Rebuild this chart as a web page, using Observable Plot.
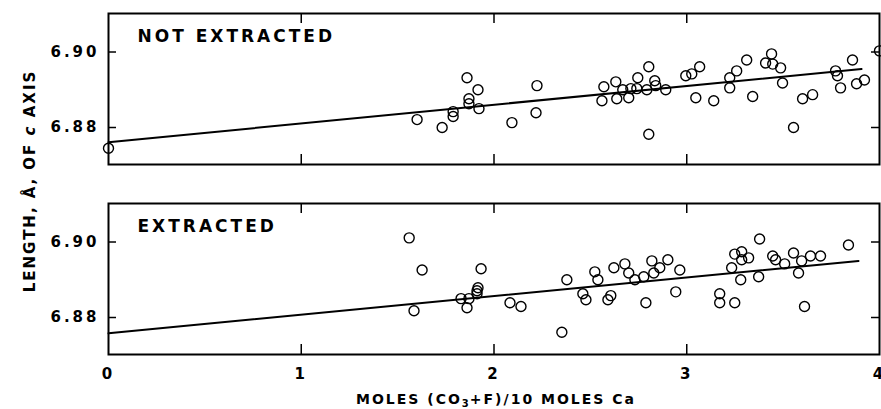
<!DOCTYPE html>
<html>
<head>
<meta charset="utf-8">
<script src="https://cdn.jsdelivr.net/npm/d3@7"></script>
<script src="https://cdn.jsdelivr.net/npm/@observablehq/plot@0.6"></script>
<style>
  html, body { margin: 0; padding: 0; background: white; }
  #wrap { position: relative; width: 881px; height: 409px; overflow: hidden; font-family: "DejaVu Sans", sans-serif; font-weight: bold; color: black; }
  #wrap svg text { letter-spacing: 3px; }
  .ylab { position: absolute; left: 30px; top: 181px; transform: translate(-50%, -50%) rotate(-90deg); white-space: nowrap; font-size: 15px; letter-spacing: 2px; }
  .xlab { position: absolute; left: 496px; top: 399px; transform: translate(-50%, -50%); white-space: nowrap; font-size: 14px; letter-spacing: 2px; line-height: 16px; }
  .xlab sub { font-size: 10px; vertical-align: -3px; letter-spacing: 1px; line-height: 0; }
</style>
</head>
<body>
<div id="wrap">
  <div class="ylab">LENGTH, Å, OF <i>c</i> AXIS</div>
  <div class="xlab">MOLES (CO<sub>3</sub>+F)/10 MOLES Ca</div>
</div>
<script>
// Panels
const panels = ["NOT EXTRACTED", "EXTRACTED"];

// Tick values
const xTicks = [0, 1, 2, 3, 4];
const xInnerTicks = [1, 2, 3];
const yTicks = [6.88, 6.90];

// NOT EXTRACTED samples
const topX = [0, 1.601, 1.731, 1.788, 1.788, 1.860, 1.870, 1.870, 1.917, 1.922, 2.093, 2.223, 2.218,
  2.560, 2.570, 2.632, 2.637, 2.668, 2.699, 2.710, 2.746, 2.741, 2.793, 2.803, 2.834, 2.839, 2.891, 2.803,
  2.995, 3.026, 3.067, 3.047, 3.140, 3.223, 3.223, 3.259, 3.311, 3.342, 3.409, 3.440, 3.446, 3.487, 3.497,
  3.554, 3.601, 3.653, 3.772, 3.782, 3.798, 3.860, 3.881, 3.922, 4.000];
const topY = [6.8745, 6.8821, 6.8800, 6.8842, 6.8829, 6.8932, 6.8876, 6.8863, 6.8900, 6.8850, 6.8813, 6.8911, 6.8839,
  6.8871, 6.8908, 6.8921, 6.8876, 6.8900, 6.8879, 6.8903, 6.8932, 6.8903, 6.8900, 6.8961, 6.8924, 6.8911, 6.8900, 6.8782,
  6.8937, 6.8942, 6.8961, 6.8879, 6.8871, 6.8932, 6.8905, 6.8950, 6.8979, 6.8882, 6.8971, 6.8995, 6.8968, 6.8958, 6.8918,
  6.8800, 6.8876, 6.8887, 6.8950, 6.8937, 6.8905, 6.8979, 6.8916, 6.8926, 6.9003];

// EXTRACTED samples
const botX = [1.560, 1.627, 1.585, 1.829, 1.860, 1.870, 1.912, 1.917, 1.912, 1.933, 2.083, 2.140, 2.352,
  2.378, 2.461, 2.477, 2.523, 2.539, 2.591, 2.606, 2.622, 2.679, 2.699, 2.731, 2.788, 2.777, 2.819, 2.829,
  2.860, 2.902, 2.943, 2.964, 3.171, 3.171, 3.233, 3.249, 3.249, 3.285, 3.285, 3.321, 3.280, 3.378, 3.373,
  3.446, 3.461, 3.508, 3.554, 3.596, 3.580, 3.642, 3.694, 3.611, 3.839];
const botY = [6.9011, 6.8926, 6.8818, 6.8850, 6.8826, 6.8850, 6.8863, 6.8879, 6.8871, 6.8929, 6.8839, 6.8829, 6.8761,
  6.8900, 6.8863, 6.8847, 6.8921, 6.8900, 6.8847, 6.8858, 6.8932, 6.8942, 6.8918, 6.8900, 6.8839, 6.8908, 6.8950, 6.8918,
  6.8932, 6.8953, 6.8868, 6.8926, 6.8863, 6.8839, 6.8932, 6.8839, 6.8968, 6.8974, 6.8953, 6.8958, 6.8900, 6.9008, 6.8908,
  6.8963, 6.8953, 6.8942, 6.8971, 6.8950, 6.8918, 6.8963, 6.8963, 6.8829, 6.8992];

// Fitted lines (endpoints)
const topFitX = [0, 3.907];
const topFitY = [6.8761, 6.8955];
const botFitX = [0, 3.891];
const botFitY = [6.8758, 6.8950];

// Build tables
const points = [
  ...topX.map((x, i) => ({panel: panels[0], x, y: topY[i]})),
  ...botX.map((x, i) => ({panel: panels[1], x, y: botY[i]}))
];
const fits = [
  ...topFitX.map((x, i) => ({panel: panels[0], x, y: topFitY[i]})),
  ...botFitX.map((x, i) => ({panel: panels[1], x, y: botFitY[i]}))
];

const W = 881, H = 409, mL = 108, mR = 2, mT = 12, mB = 54;
const innerW = W - mL - mR;
const gapFrac = 0.204;
const bandH = (H - mT - mB) / (2 - gapFrac) * (1 - gapFrac);

const chart = Plot.plot({
  width: W, height: H,
  marginLeft: mL, marginRight: mR, marginTop: mT, marginBottom: mB,
  style: {fontFamily: "DejaVu Sans, sans-serif", fontSize: "15px", fontWeight: "bold", color: "black", background: "white", overflow: "visible"},
  x: {domain: [0, 4], ticks: xTicks, tickSize: 0, tickPadding: 14, tickFormat: d => String(d), label: null},
  y: {domain: [6.8702, 6.9102], ticks: yTicks, tickSize: 0, tickPadding: 9, tickFormat: d => d.toFixed(2), label: null},
  fy: {domain: panels, axis: null, label: null, paddingInner: gapFrac, paddingOuter: 0},
  marks: [
    Plot.frame({stroke: "black", strokeWidth: 2}),
    Plot.tickX(xInnerTicks, {x: d => d, insetBottom: bandH - 11, stroke: "black", strokeWidth: 1.5}),
    Plot.tickX(xInnerTicks, {x: d => d, insetTop: bandH - 11, stroke: "black", strokeWidth: 1.5}),
    Plot.tickY(yTicks, {y: d => d, insetRight: innerW - 8, stroke: "black", strokeWidth: 1.5}),
    Plot.tickY(yTicks, {y: d => d, insetLeft: innerW - 8, stroke: "black", strokeWidth: 1.5}),
    Plot.line(fits, {x: "x", y: "y", fy: "panel", z: "panel", stroke: "black", strokeWidth: 2}),
    Plot.dot(points, {x: "x", y: "y", fy: "panel", r: 5, stroke: "black", strokeWidth: 1.4, fill: "none"}),
    Plot.text(panels, {fy: d => d, text: d => d, frameAnchor: "top-left", textAnchor: "start", lineAnchor: "middle", dx: 29, dy: 23, fontSize: 17, fill: "black"})
  ]
});

document.getElementById("wrap").prepend(chart);
</script>
</body>
</html>
